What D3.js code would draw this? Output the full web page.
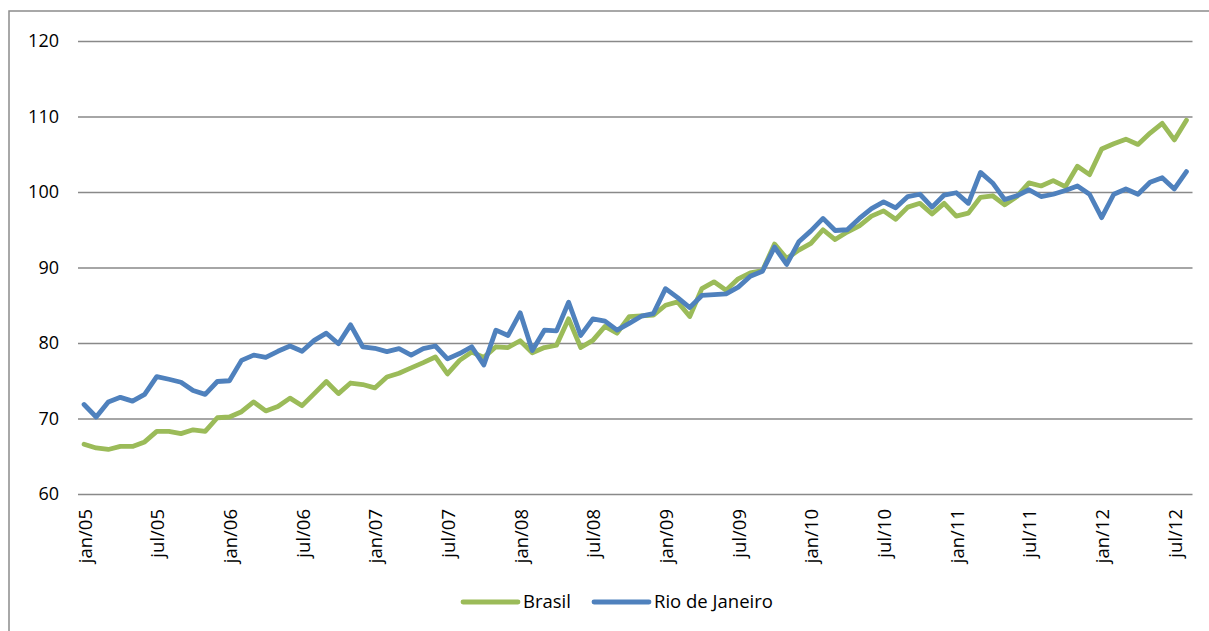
<!DOCTYPE html>
<meta charset="utf-8">
<head>
<script src="https://d3js.org/d3.v7.min.js"></script>
<style>
  body { margin: 0; background: #fff; }
  text { font-family: "Open Sans", "Noto Sans", sans-serif; fill: #000; }
</style>
</head>
<body>
<svg id="chart" width="1209" height="631"></svg>
<script>

// months are in Portuguese, from jan/05 to ago/12
var years = ["05", "06", "07", "08", "09", "10", "11", "12"];
var monthNames = ["jan", "fev", "mar", "abr", "mai", "jun", "jul", "ago", "set", "out", "nov", "dez"];
var tickLabels = ["jan/05", "jul/05", "jan/06", "jul/06", "jan/07", "jul/07", "jan/08", "jul/08",
  "jan/09", "jul/09", "jan/10", "jul/10", "jan/11", "jul/11", "jan/12", "jul/12"];
var yTicks = [60, 70, 80, 90, 100, 110, 120];

var brasil = [66.6, 66.1, 65.9, 66.3, 66.3, 66.9, 68.3, 68.3, 68.0, 68.5, 68.3, 70.1,
  70.2, 70.9, 72.2, 71.0, 71.6, 72.7, 71.7, 73.3, 74.9, 73.3, 74.7, 74.5,
  74.05, 75.5, 76.0, 76.7, 77.4, 78.15, 75.9, 77.7, 78.8, 78.1, 79.5, 79.4,
  80.3, 78.7, 79.4, 79.7, 83.2, 79.4, 80.35, 82.2, 81.3, 83.5, 83.6, 83.7,
  85.0, 85.45, 83.5, 87.2, 88.1, 87.0, 88.5, 89.3, 89.6, 93.1, 91.2, 92.3,
  93.2, 95.0, 93.7, 94.7, 95.5, 96.8, 97.5, 96.4, 98.0, 98.5, 97.1, 98.5,
  96.8, 97.2, 99.3, 99.5, 98.3, 99.4, 101.2, 100.8, 101.5, 100.7, 103.4, 102.3,
  105.7, 106.4, 107.0, 106.3, 107.8, 109.1, 106.9, 109.5];

var rio = [71.85, 70.2, 72.2, 72.8, 72.3, 73.2, 75.55, 75.2, 74.8, 73.7, 73.2, 74.9,
  75.0, 77.7, 78.4, 78.1, 78.9, 79.6, 78.9, 80.35, 81.3, 79.9, 82.4, 79.5,
  79.3, 78.85, 79.25, 78.4, 79.25, 79.6, 77.9, 78.6, 79.5, 77.1, 81.7, 81.0,
  84.0, 79.0, 81.7, 81.6, 85.4, 81.0, 83.2, 82.9, 81.7, 82.6, 83.55, 83.9,
  87.2, 86.0, 84.7, 86.3, 86.4, 86.5, 87.4, 88.85, 89.5, 92.7, 90.4, 93.4,
  94.85, 96.5, 94.9, 95.0, 96.5, 97.8, 98.7, 97.9, 99.4, 99.7, 98.0, 99.6,
  99.9, 98.5, 102.6, 101.2, 99.0, 99.5, 100.3, 99.4, 99.7, 100.2, 100.8, 99.7,
  96.6, 99.7, 100.4, 99.7, 101.3, 101.9, 100.4, 102.7];

var seriesNames = ["Brasil", "Rio de Janeiro"];
var seriesColors = ["#9bbb59", "#4f81bd"];

// category list, one per month, as long as the series
var categories = [];
years.forEach(function (yy) {
  monthNames.forEach(function (m) { categories.push(m + "/" + yy); });
});
categories = categories.slice(0, brasil.length);

function drawChart() {
  var svg = d3.select("#chart");

  var left = 78, right = 1192.5, top = 41, bottom = 494;

  var x = d3.scaleBand().domain(categories).range([left, right]);
  var y = d3.scaleLinear().domain([60, 120]).range([bottom, top]);
  var cx = function (c) { return x(c) + x.bandwidth() / 2; };

  // outer frame of the chart object
  svg.append("rect")
    .attr("x", 9).attr("y", 11)
    .attr("width", 1300).attr("height", 700)
    .attr("fill", "none")
    .attr("stroke", "#8c8c8c")
    .attr("stroke-width", 1.5);

  // y axis with gridlines
  var gy = svg.append("g")
    .attr("transform", "translate(" + left + ",0)")
    .call(d3.axisLeft(y).tickValues(yTicks).tickSize(-(right - left)).tickPadding(19));
  gy.select(".domain").remove();
  gy.selectAll("line").attr("stroke", "#898989").attr("stroke-width", 1.6);
  gy.selectAll("text").style("font-size", "18px").attr("fill", "#000");

  // x labels, rotated
  var gx = svg.append("g")
    .attr("transform", "translate(0," + bottom + ")")
    .call(d3.axisBottom(x).tickValues(tickLabels).tickSize(0));
  gx.select(".domain").remove();
  gx.selectAll("text")
    .style("font-size", "18.5px")
    .attr("fill", "#000")
    .attr("text-anchor", "end")
    .attr("transform", "translate(1,15) rotate(-90)")
    .attr("x", 0).attr("y", 0)
    .attr("dy", "0.35em");

  var line = d3.line()
    .x(function (d, i) { return cx(categories[i]); })
    .y(function (d) { return y(d); });

  [brasil, rio].forEach(function (s, k) {
    svg.append("path")
      .datum(s)
      .attr("d", line)
      .attr("fill", "none")
      .attr("stroke", seriesColors[k])
      .attr("stroke-width", 4.8)
      .attr("stroke-linejoin", "round")
      .attr("stroke-linecap", "round");
  });

  // legend
  var legendX = [463, 594];
  var legend = svg.append("g").attr("transform", "translate(0,602)");
  seriesNames.forEach(function (name, k) {
    legend.append("line")
      .attr("x1", legendX[k]).attr("x2", legendX[k] + 55)
      .attr("y1", 0).attr("y2", 0)
      .attr("stroke", seriesColors[k])
      .attr("stroke-width", 4.8)
      .attr("stroke-linecap", "round");
    legend.append("text")
      .attr("x", legendX[k] + 60)
      .attr("y", 0)
      .attr("dy", "0.35em")
      .style("font-size", "18.5px")
      .text(name);
  });
}

drawChart();

</script>
</body>
